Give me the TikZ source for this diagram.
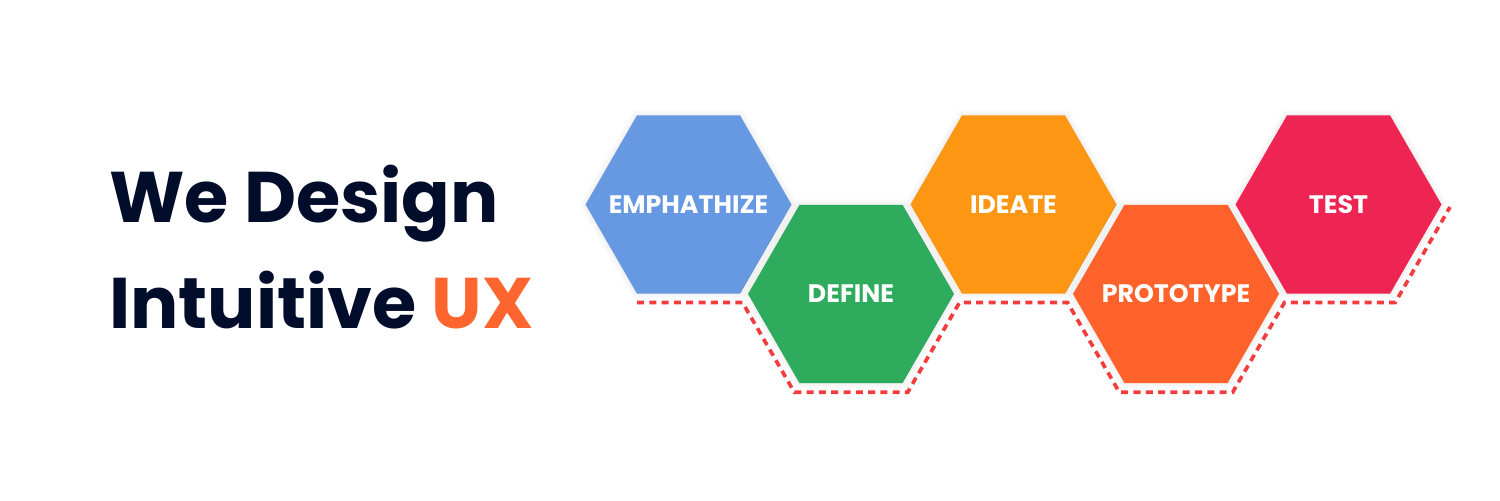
\documentclass[tikz,border=0pt]{standalone}
\usepackage{fontspec}
\setmainfont{Poppins}
\usetikzlibrary{shapes.geometric,shadows.blur}

\definecolor{navy_title}{HTML}{020C2B}
\definecolor{ux_orange}{HTML}{FF652E}
\definecolor{hex_blue}{HTML}{6799E2}
\definecolor{hex_green}{HTML}{2EAB5C}
\definecolor{hex_orange}{HTML}{FD9713}
\definecolor{hex_proto}{HTML}{FF632B}
\definecolor{hex_red}{HTML}{EE2552}
\definecolor{dash_red}{HTML}{F23C3E}

% label that does not widen its hexagon
\newcommand{\hexlabel}[1]{\makebox[0pt]{#1}}

\begin{document}
\begin{tikzpicture}[
    x=0.02cm, y=-0.02cm,
% Block styles
    title/.style={anchor=base west, inner sep=0pt, text=navy_title, font=\fontsize{40.8}{50}\selectfont\bfseries},
    hexa/.style={regular polygon, regular polygon sides=6, minimum size=4.12cm, inner sep=0pt,
        text=white, font=\fontsize{14.4}{16}\selectfont\bfseries,
        blur shadow={shadow xshift=0pt, shadow yshift=0pt, shadow blur radius=4pt, shadow opacity=12}},
    outline/.style={draw=dash_red, line width=2.1pt, dash pattern=on 4pt off 3pt}
]
\useasboundingbox (0,0) rectangle (1500,500);

% 1. Title
\node[title] (line1) at (109, 222) {We Design};
\node[title] (line2) at (109, 328) {Intuitive \textcolor{ux_orange}{UX}};

% 2. Hexagons (design thinking steps)
\node[hexa, fill=hex_blue] (empathize) at (688.5, 204.5) {\hexlabel{EMPHATHIZE}};
\node[hexa, fill=hex_green] (define) at (851, 294) {\hexlabel{DEFINE}};
\node[hexa, fill=hex_orange] (ideate) at (1013.5, 204.5) {\hexlabel{IDEATE}};
\node[hexa, fill=hex_proto] (prototype) at (1176, 294) {\hexlabel{PROTOTYPE}};
\node[hexa, fill=hex_red] (test) at (1338.5, 204.5) {\hexlabel{TEST}};

% 3. Dashed outline under the hexagons
\draw[outline] (637, 302.5) -- (742.5, 302.5) -- (794.3, 392.2) -- (907.7, 392.2)
    -- (959.5, 302.5) -- (1067.5, 302.5) -- (1119.3, 392.2) -- (1232.7, 392.2)
    -- (1284.5, 302.5) -- (1395.2, 302.5) -- (1450, 207);

\end{tikzpicture}
\end{document}
